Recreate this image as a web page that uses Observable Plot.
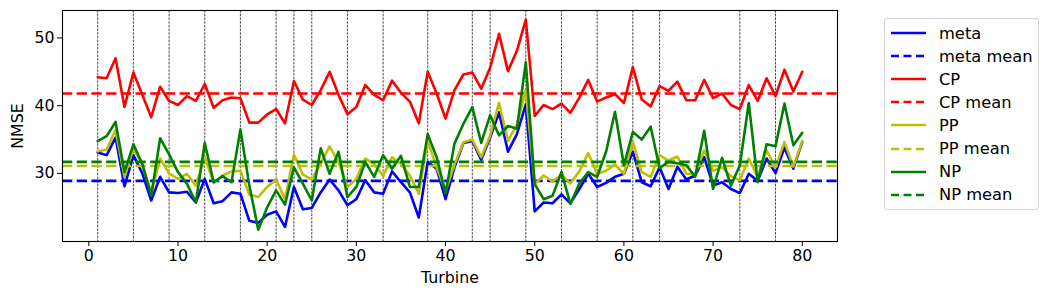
<!DOCTYPE html>
<html><head><meta charset="utf-8">
<script src="https://cdn.jsdelivr.net/npm/d3@7"></script>
<script src="https://cdn.jsdelivr.net/npm/@observablehq/plot@0.6"></script>
<style>
body{margin:0;background:#fff;font-family:"DejaVu Sans",sans-serif;}
#wrap{position:relative;width:1049px;height:296px;}
#chart svg text{font-size:15.8px !important;font-family:"DejaVu Sans",sans-serif !important;fill:#000;}
#legend{position:absolute;left:884px;top:18px;width:155px;height:192px;border:1px solid #d3d3d3;border-radius:3px;background:rgba(255,255,255,0.8);box-sizing:border-box;}
.row{position:absolute;left:5px;height:20px;display:flex;align-items:center;font-size:16.3px;color:#000;white-space:nowrap;}
.row svg{margin-right:12px;display:block;}
</style></head>
<body><div id="wrap"><div id="chart"></div><div id="legend"></div></div>
<script>
const turbines = d3.range(1, 81);
const meta = [33.1,32.7,35.3,28.1,32.7,30.0,26.0,29.5,27.2,27.1,27.3,25.7,29.2,25.6,25.9,27.2,27.0,23.0,22.7,23.9,24.4,22.1,28.0,24.7,24.9,27.2,29.1,27.5,25.3,26.2,29.0,27.2,27.0,30.3,28.7,27.2,23.5,31.7,30.7,26.2,30.9,34.5,34.8,32.0,35.3,39.0,33.2,35.8,40.2,24.4,25.7,25.6,26.9,25.6,27.7,29.95,28.0,28.6,29.5,29.95,33.2,28.7,28.1,30.9,27.7,31.0,29.1,29.7,32.4,28.2,28.7,27.7,27.1,29.95,28.9,32.2,30.05,33.8,30.7,34.65];
const CP = [44.2,44.05,47.0,39.8,44.9,41.6,38.3,42.8,40.7,40.1,41.4,40.7,43.2,39.7,40.8,41.2,41.1,37.5,37.5,38.7,39.5,37.4,43.65,40.9,40.1,42.3,45.0,41.6,38.75,39.8,43.05,41.6,40.8,43.7,41.9,40.6,37.4,45.0,41.8,38.1,42.3,44.6,44.9,42.5,45.6,50.6,45.1,48.1,52.7,38.5,40.1,39.5,40.3,38.95,41.2,43.8,40.6,41.2,41.7,40.4,45.7,40.9,39.9,42.9,42.2,43.55,40.8,40.8,43.8,41.1,41.8,40.1,39.5,43.05,40.7,44.05,41.4,45.3,42.1,45.0];
const PP = [33.26,33.5,36.4,29.5,33.7,31.3,27.2,32.2,30.0,29.2,29.95,28.2,32.4,28.6,29.7,30.3,30.4,26.9,26.5,28.0,29.1,26.2,32.8,29.85,29.1,31.5,34.0,31.7,28.0,29.2,32.2,31.4,29.6,32.4,31.4,29.7,27.0,34.8,30.9,27.4,31.3,34.6,35.0,32.4,35.6,40.4,34.8,37.2,42.3,28.4,29.7,28.8,29.8,28.5,30.3,33.0,29.95,30.4,31.3,29.95,34.65,30.2,29.5,32.7,31.9,32.5,29.95,29.95,33.4,30.4,30.9,29.6,29.0,32.2,29.5,33.4,30.9,34.65,31.0,34.8];
const NP = [34.75,35.5,37.6,30.2,34.3,31.4,26.7,35.2,32.8,30.2,28.5,25.7,34.5,28.7,29.6,28.7,36.5,28.2,21.7,25.0,27.5,25.4,30.9,28.5,26.0,33.7,29.95,33.2,26.5,28.0,31.7,29.5,32.7,30.7,32.6,28.0,28.0,35.8,32.4,27.1,34.4,37.3,39.8,34.5,38.6,35.6,37.0,36.6,46.4,28.4,26.2,26.7,30.2,25.5,28.5,30.2,29.5,33.2,39.1,31.2,36.1,35.0,36.9,30.8,31.7,31.5,31.2,29.5,36.3,27.7,32.3,28.2,31.2,40.4,28.7,34.3,34.0,40.3,34.15,36.0];
const means = {meta: 28.9, CP: 41.8, PP: 31.1, NP: 31.7};
const vlines = [1,5,9,13,17,21,23,25,29,33,38,43,45,49,53,57,61,64,73,77];
const seriesNames = ["meta","CP","PP","NP"];
const seriesValues = {meta, CP, PP, NP};
const colors = {meta:"#0000ff", CP:"#ff0000", PP:"#bfbf00", NP:"#008000"};
const xTicks = [0,10,20,30,40,50,60,70,80];
const yTicks = [30,40,50];

const marks = [
  Plot.ruleX(vlines, {stroke:"black", strokeWidth:0.7, strokeDasharray:"2.6,1.1"})
];
for (const s of seriesNames) {
  const vals = seriesValues[s];
  marks.push(Plot.line(turbines, {x: d => d, y: (d, i) => vals[i], stroke: colors[s], strokeWidth: 2.6}));
  marks.push(Plot.ruleY([means[s]], {stroke: colors[s], strokeWidth: 2.6, strokeDasharray: "10.3,4.4"}));
}
marks.push(Plot.axisX({ticks: xTicks, tickSize: 5, tickPadding: 3, label: "Turbine", labelAnchor: "center", labelArrow: "none", labelOffset: 41}));
marks.push(Plot.axisY({ticks: yTicks, tickSize: 5, tickPadding: 3, label: "NMSE", labelAnchor: "center", labelArrow: "none", labelOffset: 51}));
marks.push(Plot.frame({stroke: "black", strokeWidth: 1.1}));

const chart = Plot.plot({
  width: 1049, height: 296,
  marginLeft: 62, marginRight: 212, marginTop: 10, marginBottom: 55,
  x: {domain: [-2.95, 83.95]},
  y: {domain: [19.95, 54.05]},
  style: {fontFamily: "DejaVu Sans, sans-serif", fontSize: "15.8px", color: "black", background: "white"},
  marks
});
document.getElementById("chart").appendChild(chart);

// legend
const legend = document.getElementById("legend");
const entries = [];
for (const s of seriesNames) {
  entries.push({label: s, color: colors[s], dash: null});
  entries.push({label: s + " mean", color: colors[s], dash: "8,4.5"});
}
entries.forEach((e, i) => {
  const row = document.createElement("div");
  row.className = "row";
  row.style.top = (4 + i * 23.1) + "px";
  row.innerHTML = `<svg width="37" height="6"><line x1="1" x2="36" y1="3" y2="3" stroke="${e.color}" stroke-width="2.6" ${e.dash ? `stroke-dasharray="${e.dash}"` : ""}/></svg><span>${e.label}</span>`;
  legend.appendChild(row);
});
</script>
</body></html>
